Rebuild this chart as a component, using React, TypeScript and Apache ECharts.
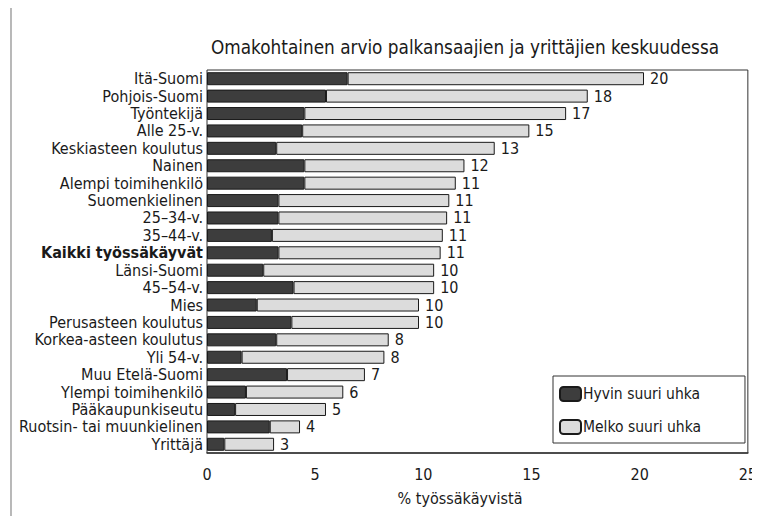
import React, { useEffect, useRef } from "react";
import * as echarts from "echarts";

const categories = [
  "Itä-Suomi",
  "Pohjois-Suomi",
  "Työntekijä",
  "Alle 25-v.",
  "Keskiasteen koulutus",
  "Nainen",
  "Alempi toimihenkilö",
  "Suomenkielinen",
  "25–34-v.",
  "35–44-v.",
  "Kaikki työssäkäyvät",
  "Länsi-Suomi",
  "45–54-v.",
  "Mies",
  "Perusasteen koulutus",
  "Korkea-asteen koulutus",
  "Yli 54-v.",
  "Muu Etelä-Suomi",
  "Ylempi toimihenkilö",
  "Pääkaupunkiseutu",
  "Ruotsin- tai muunkielinen",
  "Yrittäjä",
];

const hyvinSuuri = [6.5, 5.5, 4.5, 4.4, 3.2, 4.5, 4.5, 3.3, 3.3, 3.0, 3.3, 2.6, 4.0, 2.3, 3.9, 3.2, 1.6, 3.7, 1.8, 1.3, 2.9, 0.8];
const melkoSuuri = [13.7, 12.1, 12.1, 10.5, 10.1, 7.4, 7.0, 7.9, 7.8, 7.9, 7.5, 7.9, 6.5, 7.5, 5.9, 5.2, 6.6, 3.6, 4.5, 4.2, 1.4, 2.3];
const totalLabels = [20, 18, 17, 15, 13, 12, 11, 11, 11, 11, 11, 10, 10, 10, 10, 8, 8, 7, 6, 5, 4, 3];
const xTicks = [0, 5, 10, 15, 20, 25];

const FONT = "'DejaVu Sans Condensed', 'Liberation Sans Narrow', sans-serif";
const BOLD_CATEGORY = "Kaikki työssäkäyvät";

export default function App() {
  const ref = useRef<HTMLDivElement>(null);

  useEffect(() => {
    if (!ref.current) return;
    const chart = echarts.init(ref.current, null, { renderer: "svg" });
    chart.setOption({
      animation: false,
      backgroundColor: "#ffffff",
      textStyle: { fontFamily: FONT },
      title: {
        text: "Omakohtainen arvio palkansaajien ja yrittäjien keskuudessa",
        left: 206,
        top: 33,
        textStyle: { fontFamily: FONT, fontSize: 18.8, fontWeight: "normal", color: "#1a1a1a" },
      },
      graphic: [
        {
          type: "rect",
          shape: { x: 11, y: 7, width: 800, height: 600 },
          style: { fill: "none", stroke: "#8a8a8a", lineWidth: 1.2 },
          silent: true,
        },
        {
          type: "text",
          x: 460,
          y: 498,
          style: {
            text: "% työssäkäyvistä",
            fontFamily: FONT,
            fontSize: 16,
            fill: "#1a1a1a",
            align: "center",
            verticalAlign: "middle",
          },
          silent: true,
        },
      ],
      legend: {
        orient: "vertical",
        left: 553,
        top: 376,
        padding: [10, 44, 8, 6],
        itemWidth: 21,
        itemHeight: 14,
        itemGap: 17,
        borderColor: "#333",
        borderWidth: 1,
        backgroundColor: "#fff",
        textStyle: { fontFamily: FONT, fontSize: 15.5, color: "#1a1a1a", padding: [0, 0, 0, -3] },
        data: ["Hyvin suuri uhka", "Melko suuri uhka"],
      },
      grid: {
        left: 207,
        right: 5,
        top: 70,
        bottom: 71,
        show: true,
        borderColor: "#333",
        borderWidth: 1,
      },
      xAxis: {
        type: "value",
        min: 0,
        max: 25,
        interval: 5,
        axisLine: { show: true, lineStyle: { color: "#333", width: 1.5 } },
        axisTick: { show: false },
        splitLine: { show: false },
        axisLabel: {
          fontFamily: FONT,
          fontSize: 16,
          fontWeight: 500,
          color: "#1a1a1a",
          margin: 13,
          formatter: (v: number) => (xTicks.includes(v) ? String(v) : ""),
        },
      },
      yAxis: {
        type: "category",
        inverse: true,
        data: categories,
        axisLine: { show: false },
        axisTick: { show: false },
        axisLabel: {
          interval: 0,
          fontFamily: FONT,
          fontSize: 16,
          color: "#1a1a1a",
          margin: 4,
          formatter: (v: string) => (v === BOLD_CATEGORY ? `{b|${v}}` : v),
          rich: {
            b: { fontFamily: FONT, fontSize: 16, fontWeight: "bold", color: "#1a1a1a" },
          },
        },
      },
      series: [
        {
          name: "Hyvin suuri uhka",
          type: "bar",
          stack: "total",
          barWidth: 13,
          data: hyvinSuuri,
          itemStyle: { color: "#3d3d3d", borderColor: "#1a1a1a", borderWidth: 1 },
        },
        {
          name: "Melko suuri uhka",
          type: "bar",
          stack: "total",
          barWidth: 13,
          data: melkoSuuri,
          itemStyle: { color: "#dcdcdc", borderColor: "#1a1a1a", borderWidth: 1 },
          label: {
            show: true,
            position: "right",
            distance: 6,
            fontFamily: FONT,
            fontSize: 16,
            color: "#1a1a1a",
            formatter: (p: any) => String(totalLabels[p.dataIndex]),
          },
        },
      ],
    });
    return () => chart.dispose();
  }, []);

  return <div ref={ref} style={{ width: 760, height: 524, margin: -8 }} />;
}
